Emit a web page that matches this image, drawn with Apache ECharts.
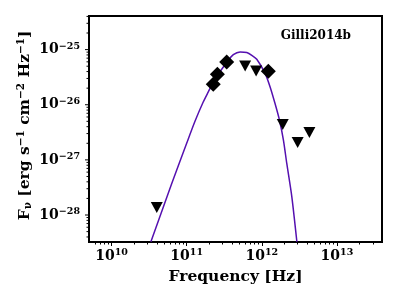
<!DOCTYPE html>
<html>
<head>
<meta charset="utf-8">
<script src="https://cdn.jsdelivr.net/npm/echarts@6/dist/echarts.min.js"></script>
<style>html,body{margin:0;padding:0;background:#fff}#c{width:399px;height:299px}</style>
</head>
<body>
<div id="c"></div>
<script>
// Detections (diamonds)
const detFreq = [2.26e11, 2.56e11, 3.41e11, 1.22e12];
const detFlux = [2.35e-26, 3.57e-26, 5.96e-26, 4.05e-26];
// Upper limits (down triangles)
const ulFreq = [4.0e10, 6.0e11, 8.4e11, 1.9e12, 3.0e12, 4.3e12];
const ulFlux = [1.37e-28, 5.05e-26, 4.1e-26, 4.4e-27, 2.07e-27, 3.13e-27];
// Model curve
const fitFreq = [3.34e10, 6.31e10, 1.00e11, 1.29e11, 1.66e11, 1.94e11, 2.33e11, 3.52e11, 4.18e11, 5.14e11, 6.31e11, 7.36e11, 8.57e11, 1.11e12, 1.29e12, 1.50e12, 1.72e12, 1.94e12, 2.15e12, 2.51e12, 2.93e12];
const fitFlux = [3.27e-29, 3.68e-28, 2.00e-27, 5.01e-27, 1.12e-26, 1.71e-26, 2.78e-26, 6.21e-26, 8.11e-26, 9.06e-26, 8.83e-26, 7.89e-26, 6.67e-26, 3.67e-26, 2.10e-26, 1.05e-26, 5.24e-27, 2.28e-27, 8.61e-28, 2.14e-28, 3.27e-29];
// Axis ticks
const xMajor = [1e10, 1e11, 1e12, 1e13];
const yMajor = [1e-28, 1e-27, 1e-26, 1e-25];
const xRange = [5.01e9, 3.98e13];
const yRange = [3.24e-29, 4.07e-25];

function minors(lo, hi) {
  const out = [];
  for (let e = Math.floor(Math.log10(lo)); e <= Math.ceil(Math.log10(hi)); e++) {
    for (let m = 2; m <= 9; m++) {
      const v = m * Math.pow(10, e);
      if (v >= lo && v <= hi) out.push(v);
    }
  }
  return out;
}
const xMinor = minors(xRange[0], xRange[1]);
const yMinor = minors(yRange[0], yRange[1]);

const FONT = 'DejaVu Serif';
const rich = {
  b: {fontFamily: FONT, fontWeight: 'bold', fontSize: 14, color: '#000', lineHeight: 16},
  s: {fontFamily: FONT, fontWeight: 'bold', fontSize: 9.5, color: '#000', lineHeight: 9, verticalAlign: 'top'}
};
const nameRich = {
  b: {fontFamily: FONT, fontWeight: 'bold', fontSize: 15.5, color: '#000', lineHeight: 18},
  s: {fontFamily: FONT, fontWeight: 'bold', fontSize: 10.5, color: '#000', lineHeight: 10, verticalAlign: 'top'},
  sub: {fontFamily: FONT, fontWeight: 'bold', fontSize: 10.5, color: '#000', lineHeight: 10, verticalAlign: 'bottom'}
};
function powFmt(v) {
  const e = Math.round(Math.log10(v));
  const es = (e < 0 ? '\u2212' : '') + Math.abs(e);
  return '{b|10}{s|' + es + '}';
}
const tickStyle = {color: '#000', width: 1};

const chart = echarts.init(document.getElementById('c'), null, {renderer: 'canvas'});
const option = {
  animation: false,
  backgroundColor: '#fff',
  grid: {left: 89, right: 17, top: 16, bottom: 57, show: true, borderColor: '#000', borderWidth: 2, backgroundColor: 'transparent'},
  title: {
    text: 'Gilli2014b', right: 43, top: 25,
    textStyle: {fontFamily: FONT, fontWeight: 'bold', fontSize: 12, color: '#000'}
  },
  xAxis: [
    {
      type: 'log', min: xRange[0], max: xRange[1], position: 'bottom',
      axisLine: {show: false}, splitLine: {show: false},
      axisTick: {show: true, customValues: xMajor, length: 4, lineStyle: tickStyle},
      axisLabel: {customValues: xMajor, margin: 6, formatter: powFmt, rich: rich},
      name: 'Frequency [Hz]', nameLocation: 'middle', nameGap: 27,
      nameTextStyle: {fontFamily: FONT, fontWeight: 'bold', fontSize: 15.5, color: '#000'}
    },
    {
      type: 'log', min: xRange[0], max: xRange[1], position: 'bottom',
      axisLine: {show: false}, splitLine: {show: false},
      axisTick: {show: true, customValues: xMinor, length: 2.5, lineStyle: tickStyle},
      axisLabel: {show: false}
    }
  ],
  yAxis: [
    {
      type: 'log', min: yRange[0], max: yRange[1], position: 'left',
      axisLine: {show: false}, splitLine: {show: false},
      axisTick: {show: false}, axisLabel: {show: false},
      name: '{b|F}{sub|\u03bd}{b| [erg s}{s|\u22121}{b| cm}{s|\u22122}{b| Hz}{s|\u22121}{b|]}',
      nameLocation: 'middle', nameGap: 55, nameRotate: 90,
      nameTextStyle: {rich: nameRich, padding: [0, 0, 0, 7]}
    }
  ],
  series: [
    {
      type: 'line', xAxisIndex: 0, yAxisIndex: 0, clip: true,
      data: fitFreq.map((f, i) => [f, fitFlux[i]]),
      showSymbol: false, smooth: 0.25,
      lineStyle: {color: '#5510b0', width: 1.5}, z: 2
    },
    {
      type: 'scatter', xAxisIndex: 0, yAxisIndex: 0,
      data: ulFreq.map((f, i) => [f, ulFlux[i]]),
      symbol: 'triangle', symbolRotate: 180, symbolSize: [12, 11],
      itemStyle: {color: '#000', opacity: 1}, z: 3
    },
    {
      type: 'scatter', xAxisIndex: 0, yAxisIndex: 0,
      data: detFreq.map((f, i) => [f, detFlux[i]]),
      symbol: 'diamond', symbolSize: [15, 15],
      itemStyle: {color: '#000', opacity: 1}, z: 4
    }
  ]
};
chart.setOption(option);

// Y-axis ticks and labels, positioned through the y axis scale
const axX = chart.convertToPixel({xAxisIndex: 0}, xRange[0]);
const els = [];
yMajor.forEach(v => {
  const py = chart.convertToPixel({yAxisIndex: 0}, v);
  els.push({type: 'line', shape: {x1: axX - 4, y1: py, x2: axX, y2: py}, style: {stroke: '#000', lineWidth: 1}, z: 10});
  els.push({type: 'text', x: axX - 9, y: py, z: 10,
    style: {text: powFmt(v), rich: rich, align: 'right', verticalAlign: 'middle'}});
});
yMinor.forEach(v => {
  const py = chart.convertToPixel({yAxisIndex: 0}, v);
  els.push({type: 'line', shape: {x1: axX - 2.5, y1: py, x2: axX, y2: py}, style: {stroke: '#000', lineWidth: 1}, z: 10});
});
chart.setOption({graphic: {elements: els}});
</script>
</body>
</html>
